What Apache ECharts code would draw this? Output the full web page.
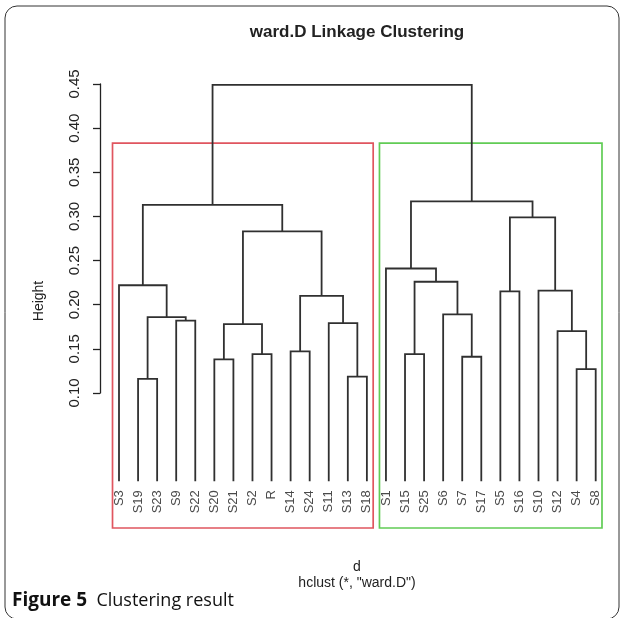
<!DOCTYPE html>
<html>
<head>
<meta charset="utf-8">
<script src="https://cdn.jsdelivr.net/npm/echarts@6/dist/echarts.min.js"></script>
<style>
  html, body { margin: 0; padding: 0; background: #fff; }
  #chart { width: 624px; height: 618px; }
</style>
</head>
<body>
<div id="chart"></div>
<script>
// Leaf order along the dendrogram (left to right)
const leafLabels = ['S3','S19','S23','S9','S22','S20','S21','S2','R','S14','S24','S11','S13','S18',
                    'S1','S15','S25','S6','S7','S17','S5','S16','S10','S12','S4','S8'];

// Merge steps: a string is a leaf, a number is an earlier merge (1-based)
const mergePairs = [
  ['S19','S23'], ['S13','S18'], ['S4','S8'], ['S20','S21'], ['S7','S17'],
  ['S2','R'], ['S15','S25'], ['S14','S24'], ['S12',3], ['S11',2],
  [4,6], ['S9','S22'], [1,12], ['S6',5], [8,10],
  ['S5','S16'], ['S10',9], ['S3',13], [7,14], ['S1',19],
  [11,15], [16,17], [18,21], [20,22], [23,24]
];
const mergeHeights = [
  0.116, 0.1185, 0.127, 0.138, 0.141,
  0.144, 0.144, 0.147, 0.170, 0.179,
  0.178, 0.182, 0.186, 0.189, 0.210,
  0.215, 0.216, 0.222, 0.226, 0.241,
  0.283, 0.299, 0.313, 0.317, 0.449
];

// Two-cluster cut: number of leaves in each group, left to right
const clusterSizes = [14, 12];
const clusterColors = ['#E0555F', '#61CC55'];

// Height axis ticks
const yTicks = [0.10, 0.15, 0.20, 0.25, 0.30, 0.35, 0.40, 0.45];

// ---- derived geometry (data space) ----
const nodePos = [];
function nodeOf(ref) {
  if (typeof ref === 'string') return { x: leafLabels.indexOf(ref), h: 0 };
  return nodePos[ref - 1];
}
const mergeSegments = mergePairs.map((pair, i) => {
  const a = nodeOf(pair[0]), b = nodeOf(pair[1]);
  const h = mergeHeights[i];
  nodePos.push({ x: (a.x + b.x) / 2, h: h });
  return [a.x, a.h, b.x, b.h, h];
});

const sortedH = mergeHeights.slice().sort((p, q) => q - p);
const cutHeight = (sortedH[0] + sortedH[1]) / 2;
const plotMinY = -0.053;
let start = 0;
const clusterBoxes = clusterSizes.map((n, i) => {
  const box = [start - 0.34, start + n - 1 + 0.33, cutHeight, i];
  start += n;
  return box;
});

const leafData = leafLabels.map((lab, i) => [i, 0, lab]);

const chart = echarts.init(document.getElementById('chart'), null, { renderer: 'canvas' });
const axisFont = "'Liberation Sans', Arial, sans-serif";
const captionFont = "'Open Sans', 'Noto Sans', sans-serif";

chart.setOption({
  animation: false,
  backgroundColor: '#fff',
  grid: [
    { left: 100, top: 84, width: 10, height: 309 },
    { left: 119, top: 84, width: 476.7, height: 444 }
  ],
  xAxis: [
    { gridIndex: 0, type: 'value', show: false, min: 0, max: 1 },
    { gridIndex: 1, type: 'value', show: false, min: 0, max: leafLabels.length - 1 }
  ],
  yAxis: [
    {
      gridIndex: 0, type: 'value',
      min: yTicks[0], max: yTicks[yTicks.length - 1], interval: 0.05,
      axisLine: { show: true, lineStyle: { color: '#222', width: 1.3 } },
      axisTick: { show: true, length: 7, lineStyle: { color: '#222', width: 1.3 } },
      splitLine: { show: false },
      axisLabel: {
        rotate: 90, margin: 18, color: '#222', fontSize: 15, fontFamily: axisFont,
        formatter: v => v.toFixed(2)
      }
    },
    { gridIndex: 1, type: 'value', show: false, min: plotMinY, max: 0.45 }
  ],
  series: [
    {
      type: 'custom',
      name: 'clusters',
      xAxisIndex: 1, yAxisIndex: 1,
      clip: false,
      data: clusterBoxes,
      renderItem: (params, api) => {
        const p0 = api.coord([api.value(0), api.value(2)]);
        const p1 = api.coord([api.value(1), plotMinY]);
        return {
          type: 'rect',
          shape: { x: p0[0], y: p0[1], width: p1[0] - p0[0], height: p1[1] - p0[1] },
          style: { fill: null, stroke: clusterColors[api.value(3)], lineWidth: 1.7 }
        };
      }
    },
    {
      type: 'custom',
      name: 'dendrogram',
      xAxisIndex: 1, yAxisIndex: 1,
      clip: false,
      data: mergeSegments,
      renderItem: (params, api) => {
        const xl = api.value(0), hl = api.value(1), xr = api.value(2), hr = api.value(3), h = api.value(4);
        return {
          type: 'polyline',
          shape: { points: [api.coord([xl, hl]), api.coord([xl, h]), api.coord([xr, h]), api.coord([xr, hr])] },
          style: { fill: null, stroke: '#303030', lineWidth: 1.8 }
        };
      }
    },
    {
      type: 'custom',
      name: 'leaves',
      xAxisIndex: 1, yAxisIndex: 1,
      clip: false,
      data: leafData,
      renderItem: (params, api) => {
        const p = api.coord([api.value(0), api.value(1)]);
        return {
          type: 'text',
          x: p[0], y: p[1] + 9,
          rotation: Math.PI / 2,
          style: {
            text: leafLabels[params.dataIndex],
            align: 'right', verticalAlign: 'middle',
            fill: '#4a4a4a', font: '13px ' + axisFont
          }
        };
      }
    }
  ],
  graphic: [
    {
      type: 'rect', silent: true,
      shape: { x: 5, y: 6, width: 614, height: 613, r: 12 },
      style: { fill: null, stroke: '#333', lineWidth: 1 }
    },
    {
      type: 'text', x: 357, y: 32,
      style: { text: 'ward.D Linkage Clustering', align: 'center', verticalAlign: 'middle',
               fill: '#222', font: 'bold 17px ' + axisFont }
    },
    {
      type: 'text', x: 39, y: 301, rotation: Math.PI / 2,
      style: { text: 'Height', align: 'center', verticalAlign: 'middle',
               fill: '#222', font: '14px ' + axisFont }
    },
    {
      type: 'text', x: 357, y: 567,
      style: { text: 'd', align: 'center', verticalAlign: 'middle',
               fill: '#222', font: '14px ' + axisFont }
    },
    {
      type: 'text', x: 357, y: 583,
      style: { text: 'hclust (*, "ward.D")', align: 'center', verticalAlign: 'middle',
               fill: '#222', font: '14px ' + axisFont }
    },
    {
      type: 'text', x: 12, y: 601,
      style: {
        text: '{b|Figure 5}{n|  Clustering result}',
        verticalAlign: 'middle',
        rich: {
          b: { fontFamily: captionFont, fontWeight: 'bold', fontSize: 19, fill: '#111' },
          n: { fontFamily: captionFont, fontSize: 18, fill: '#111' }
        }
      }
    }
  ]
});
</script>
</body>
</html>
